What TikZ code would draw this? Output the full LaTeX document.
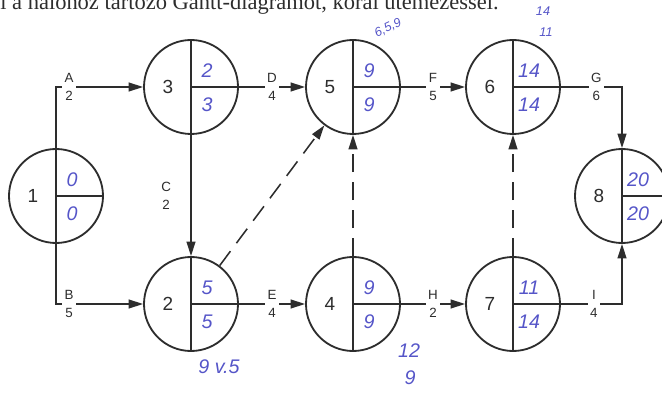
\documentclass[tikz,border=0pt]{standalone}
\usepackage{fontspec}
\setmainfont{Liberation Serif}
\setsansfont{Liberation Sans}
\usetikzlibrary{arrows.meta}
\definecolor{inkblue}{RGB}{85,85,200}
\definecolor{printgray}{RGB}{45,45,45}

\begin{document}
\begin{tikzpicture}[
  evt/.style={draw=printgray, circle, line width=1.3pt, minimum size=2.35cm, inner sep=0pt},
  act/.style={draw=printgray, line width=1.1pt, -{Triangle[length=3.6mm,width=2.2mm]}},
  dep/.style={act, dash pattern=on 4.5mm off 2.5mm},
  lbl/.style={fill=white, inner sep=1.8pt, align=center, text=printgray, font=\sffamily\fontsize{9.5}{13}\selectfont},
  num/.style={text=printgray, font=\sffamily\fontsize{13.5}{15}\selectfont},
  hand/.style={text=inkblue, font=\sffamily\itshape\fontsize{14}{16}\selectfont},
  note/.style={text=inkblue, font=\sffamily\itshape\fontsize{9}{10}\selectfont}]

\useasboundingbox (0,0) rectangle (16.55,9.9);
\clip (0,0) rectangle (16.55,9.9);

\node[anchor=base west, inner sep=0pt, text=printgray, font=\fontsize{16}{18}\selectfont] (title) at (0,9.65) {l a hálóhoz tartozó Gantt-diagramot, korai ütemezéssel.};

% events: id / x / y / early / late
\foreach \id/\x/\y/\ea/\la in {1/1.4/5.0/0/0, 3/4.775/7.725/2/3, 2/4.775/2.3/5/5,
    5/8.825/7.725/9/9, 4/8.825/2.3/9/9, 6/12.825/7.725/14/14,
    7/12.825/2.3/11/14, 8/15.55/5.0/20/20} {
  \node[evt] (e\id) at (\x,\y) {};
  \draw[printgray, line width=0.8pt] (e\id.north) -- (e\id.south) (e\id.center) -- (e\id.east);
  \node[num] (e\id-n) at ([xshift=-0.58cm]e\id.center) {\id};
  \node[hand] (e\id-t) at ([shift={(0.4,0.4)}]e\id.center) {\ea};
  \node[hand] (e\id-b) at ([shift={(0.4,-0.45)}]e\id.center) {\la};
}

% activities
\draw[act] (e1.north) |- (e3.west) node[lbl, pos=0.575] {A\\2};
\draw[act] (e1.south) |- (e2.west) node[lbl, pos=0.575] {B\\5};
\draw[act] (e3.south) -- (e2.north) node[lbl, midway, xshift=-0.62cm] {C\\2};
\draw[act] (e3.east) -- (e5.west) node[lbl, midway] {D\\4};
\draw[act] (e2.east) -- (e4.west) node[lbl, midway] {E\\4};
\draw[act] (e5.east) -- (e6.west) node[lbl, midway] {F\\5};
\draw[act] (e6.east) -| (e8.north) node[lbl, pos=0.29] {G\\6};
\draw[act] (e4.east) -- (e7.west) node[lbl, midway] {H\\2};
\draw[act] (e7.east) -| (e8.south) node[lbl, pos=0.27] {I\\4};

% dummies
\draw[dep] (e2) -- (e5);
\draw[dep] (e4.north) -- (e5.south);
\draw[dep] (e7.north) -- (e6.south);

% pencil notes
\node[note, rotate=25] (e5-note) at (9.7,9.2) {6,5,9};
\node[note] (e6-note1) at (13.575,9.625) {14};
\node[note] (e6-note2) at (13.65,9.1) {11};
\node[hand] (e2-note) at (5.475,0.725) {9 v.5};
\node[hand] (e4-note1) at (10.225,1.125) {12};
\node[hand] (e4-note2) at (10.25,0.45) {9};

\end{tikzpicture}
\end{document}
